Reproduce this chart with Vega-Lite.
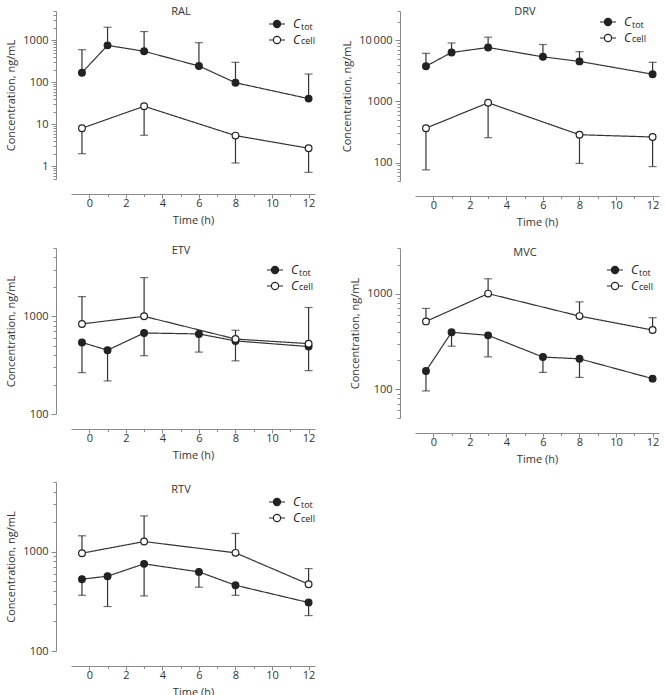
{
  "$schema": "https://vega.github.io/schema/vega-lite/v6.json",
  "padding": {"left": 5, "top": 5, "right": 5, "bottom": 0},
  "config": {
    "font": "Open Sans",
    "view": {"stroke": null},
    "axis": {"grid": false, "domainColor": "#8a8a8a", "tickColor": "#8a8a8a", "labelColor": "#333", "titleColor": "#333", "labelFont": "Open Sans", "titleFont": "Open Sans", "labelFontSize": 11, "titleFontSize": 11, "titleFontWeight": "normal", "domainWidth": 1, "tickWidth": 1},
    "title": {"font": "Open Sans", "fontSize": 11, "fontWeight": "normal", "color": "#333", "frame": "group", "anchor": "middle", "baseline": "alphabetic"},
    "legend": {"labelFont": "Open Sans", "labelColor": "#222", "padding": 0, "rowPadding": 0}
  },
  "datasets": {
    "pk": [
      {"d": "RAL", "s": "Ctot", "t": -0.4, "v": 170, "e": 600},
      {"d": "RAL", "s": "Ctot", "t": 1, "v": 760, "e": 2050},
      {"d": "RAL", "s": "Ctot", "t": 3, "v": 550, "e": 1620},
      {"d": "RAL", "s": "Ctot", "t": 6, "v": 245, "e": 880},
      {"d": "RAL", "s": "Ctot", "t": 8, "v": 98, "e": 300},
      {"d": "RAL", "s": "Ctot", "t": 12, "v": 41, "e": 158},
      {"d": "RAL", "s": "Ccell", "t": -0.4, "v": 8.1, "e": 2.0},
      {"d": "RAL", "s": "Ccell", "t": 3, "v": 27, "e": 5.5},
      {"d": "RAL", "s": "Ccell", "t": 8, "v": 5.4, "e": 1.2},
      {"d": "RAL", "s": "Ccell", "t": 12, "v": 2.7, "e": 0.72},
      {"d": "DRV", "s": "Ctot", "t": -0.4, "v": 3760, "e": 6100},
      {"d": "DRV", "s": "Ctot", "t": 1, "v": 6300, "e": 9000},
      {"d": "DRV", "s": "Ctot", "t": 3, "v": 7600, "e": 11200},
      {"d": "DRV", "s": "Ctot", "t": 6, "v": 5350, "e": 8500},
      {"d": "DRV", "s": "Ctot", "t": 8, "v": 4500, "e": 6500},
      {"d": "DRV", "s": "Ctot", "t": 12, "v": 2780, "e": 4350},
      {"d": "DRV", "s": "Ccell", "t": -0.4, "v": 365, "e": 76},
      {"d": "DRV", "s": "Ccell", "t": 3, "v": 950, "e": 255},
      {"d": "DRV", "s": "Ccell", "t": 8, "v": 285, "e": 97},
      {"d": "DRV", "s": "Ccell", "t": 12, "v": 262, "e": 86},
      {"d": "ETV", "s": "Ctot", "t": -0.4, "v": 540, "e": 265},
      {"d": "ETV", "s": "Ctot", "t": 1, "v": 450, "e": 218},
      {"d": "ETV", "s": "Ctot", "t": 3, "v": 675, "e": 395},
      {"d": "ETV", "s": "Ctot", "t": 6, "v": 660, "e": 430},
      {"d": "ETV", "s": "Ctot", "t": 8, "v": 560, "e": 350},
      {"d": "ETV", "s": "Ctot", "t": 12, "v": 490, "e": 278},
      {"d": "ETV", "s": "Ccell", "t": -0.4, "v": 835, "e": 1590},
      {"d": "ETV", "s": "Ccell", "t": 3, "v": 1000, "e": 2490},
      {"d": "ETV", "s": "Ccell", "t": 8, "v": 585, "e": 720},
      {"d": "ETV", "s": "Ccell", "t": 12, "v": 525, "e": 1230},
      {"d": "MVC", "s": "Ctot", "t": -0.4, "v": 155, "e": 96},
      {"d": "MVC", "s": "Ctot", "t": 1, "v": 394, "e": 282},
      {"d": "MVC", "s": "Ctot", "t": 3, "v": 366, "e": 218},
      {"d": "MVC", "s": "Ctot", "t": 6, "v": 217, "e": 150},
      {"d": "MVC", "s": "Ctot", "t": 8, "v": 208, "e": 133},
      {"d": "MVC", "s": "Ctot", "t": 12, "v": 129, "e": null},
      {"d": "MVC", "s": "Ccell", "t": -0.4, "v": 512, "e": 700},
      {"d": "MVC", "s": "Ccell", "t": 3, "v": 1000, "e": 1430},
      {"d": "MVC", "s": "Ccell", "t": 8, "v": 582, "e": 820},
      {"d": "MVC", "s": "Ccell", "t": 12, "v": 416, "e": 560},
      {"d": "RTV", "s": "Ctot", "t": -0.4, "v": 527, "e": 363},
      {"d": "RTV", "s": "Ctot", "t": 1, "v": 565, "e": 280},
      {"d": "RTV", "s": "Ctot", "t": 3, "v": 752, "e": 358},
      {"d": "RTV", "s": "Ctot", "t": 6, "v": 624, "e": 438},
      {"d": "RTV", "s": "Ctot", "t": 8, "v": 458, "e": 363},
      {"d": "RTV", "s": "Ctot", "t": 12, "v": 307, "e": 227},
      {"d": "RTV", "s": "Ccell", "t": -0.4, "v": 962, "e": 1440},
      {"d": "RTV", "s": "Ccell", "t": 3, "v": 1260, "e": 2280},
      {"d": "RTV", "s": "Ccell", "t": 8, "v": 970, "e": 1520},
      {"d": "RTV", "s": "Ccell", "t": 12, "v": 469, "e": 674}
    ]
  },
  "data": {"name": "pk"},
  "columns": 2,
  "spacing": {"row": 17, "column": 26},
  "resolve": {"scale": {"fill": "independent", "strokeDash": "independent"}, "legend": {"fill": "independent", "strokeDash": "independent"}},
  "concat": [
    {
      "width": 244, "height": 168,
      "title": {"text": "RAL", "offset": -6, "dx": -12},
      "transform": [{"filter": "datum.d == 'RAL'"}],
      "encoding": {
        "x": {"field": "t", "type": "quantitative", "title": "Time (h)", "scale": {"domain": [-1, 12.35], "nice": false, "zero": false}, "axis": {"offset": 15, "values": [0,1,2,3,4,5,6,7,8,9,10,11,12], "labelExpr": "datum.value % 2 == 0 ? datum.label : ''", "tickSize": {"condition": {"test": "datum.value % 2 == 0", "value": 4}, "value": 2.5}, "labelPadding": -1, "titlePadding": 6}},
        "y": {"field": "v", "type": "quantitative", "title": "Concentration, ng/mL", "scale": {"type": "log", "domain": [0.5, 5000], "nice": false}, "axis": {"offset": 15, "values": [0.5,0.6,0.7,0.8,0.9,1,2,3,4,5,6,7,8,9,10,20,30,40,50,60,70,80,90,100,200,300,400,500,600,700,800,900,1000,2000,3000,4000,5000], "labelExpr": "indexof([1,10,100,1000], datum.value) >= 0 ? format(datum.value, 'd') : (datum.value == 10000 ? '10\u2009000' : '')", "tickSize": {"condition": {"test": "indexof([1,10,100,1000,10000], datum.value) >= 0", "value": 5}, "value": 3}, "labelPadding": 3, "titlePadding": 6}}
      },
      "layer": [
        {"mark": {"type": "line", "color": "#333", "strokeWidth": 1.2},
         "encoding": {"strokeDash": {"field": "s", "type": "nominal", "sort": "descending", "scale": {"range": [[1, 0], [1, 0]]}, "legend": {"orient": "none", "legendX": 197, "legendY": 7, "title": null, "symbolType": "M-1,0H-0.45M0.45,0H1M0.45,0A0.45,0.45,0,1,1,-0.45,0A0.45,0.45,0,1,1,0.45,0Z", "symbolSize": 256, "symbolOpacity": 0, "labelExpr": "datum.label == 'Ctot' ? 'tot' : 'cell'", "labelFontSize": 9, "labelFontStyle": "normal", "labelOffset": 15}}}},
        {"mark": {"type": "rule", "color": "#333", "strokeWidth": 1.2}, "transform": [{"filter": "datum.e != null"}],
         "encoding": {"y2": {"field": "e"}}},
        {"mark": {"type": "tick", "orient": "horizontal", "color": "#333", "size": 8, "thickness": 1.2}, "transform": [{"filter": "datum.e != null"}],
         "encoding": {"y": {"field": "e", "type": "quantitative", "title": "Concentration, ng/mL"}}},
        {"mark": {"type": "point", "shape": "circle", "filled": true, "stroke": "#222", "strokeWidth": 1.2, "size": 45, "opacity": 1},
         "encoding": {"fill": {"field": "s", "type": "nominal", "scale": {"domain": ["Ctot", "Ccell"], "range": ["#222", "white"]}, "legend": {"orient": "none", "legendX": 197, "legendY": 4, "title": null, "symbolType": "M-1,0H-0.45M0.45,0H1M0.45,0A0.45,0.45,0,1,1,-0.45,0A0.45,0.45,0,1,1,0.45,0Z", "symbolSize": 256, "symbolStrokeColor": "#222", "symbolStrokeWidth": 1.2, "labelExpr": "'C'", "labelFontStyle": "italic", "labelFontSize": 12.5, "labelOffset": 7}}}}
      ]
    },
    {
      "width": 244, "height": 170,
      "title": {"text": "DRV", "offset": -6, "dx": -12},
      "transform": [{"filter": "datum.d == 'DRV'"}],
      "encoding": {
        "x": {"field": "t", "type": "quantitative", "title": "Time (h)", "scale": {"domain": [-1, 12.35], "nice": false, "zero": false}, "axis": {"offset": 15, "values": [0,1,2,3,4,5,6,7,8,9,10,11,12], "labelExpr": "datum.value % 2 == 0 ? datum.label : ''", "tickSize": {"condition": {"test": "datum.value % 2 == 0", "value": 4}, "value": 2.5}, "labelPadding": -1, "titlePadding": 6}},
        "y": {"field": "v", "type": "quantitative", "title": "Concentration, ng/mL", "scale": {"type": "log", "domain": [50, 30000], "nice": false}, "axis": {"offset": 15, "values": [50,60,70,80,90,100,200,300,400,500,600,700,800,900,1000,2000,3000,4000,5000,6000,7000,8000,9000,10000,20000,30000], "labelExpr": "indexof([1,10,100,1000], datum.value) >= 0 ? format(datum.value, 'd') : (datum.value == 10000 ? '10\u2009000' : '')", "tickSize": {"condition": {"test": "indexof([1,10,100,1000,10000], datum.value) >= 0", "value": 5}, "value": 3}, "labelPadding": 3, "titlePadding": 6}}
      },
      "layer": [
        {"mark": {"type": "line", "color": "#333", "strokeWidth": 1.2},
         "encoding": {"strokeDash": {"field": "s", "type": "nominal", "sort": "descending", "scale": {"range": [[1, 0], [1, 0]]}, "legend": {"orient": "none", "legendX": 184, "legendY": 5, "title": null, "symbolType": "M-1,0H-0.45M0.45,0H1M0.45,0A0.45,0.45,0,1,1,-0.45,0A0.45,0.45,0,1,1,0.45,0Z", "symbolSize": 256, "symbolOpacity": 0, "labelExpr": "datum.label == 'Ctot' ? 'tot' : 'cell'", "labelFontSize": 9, "labelFontStyle": "normal", "labelOffset": 15}}}},
        {"mark": {"type": "rule", "color": "#333", "strokeWidth": 1.2}, "transform": [{"filter": "datum.e != null"}],
         "encoding": {"y2": {"field": "e"}}},
        {"mark": {"type": "tick", "orient": "horizontal", "color": "#333", "size": 8, "thickness": 1.2}, "transform": [{"filter": "datum.e != null"}],
         "encoding": {"y": {"field": "e", "type": "quantitative", "title": "Concentration, ng/mL"}}},
        {"mark": {"type": "point", "shape": "circle", "filled": true, "stroke": "#222", "strokeWidth": 1.2, "size": 45, "opacity": 1},
         "encoding": {"fill": {"field": "s", "type": "nominal", "scale": {"domain": ["Ctot", "Ccell"], "range": ["#222", "white"]}, "legend": {"orient": "none", "legendX": 184, "legendY": 2, "title": null, "symbolType": "M-1,0H-0.45M0.45,0H1M0.45,0A0.45,0.45,0,1,1,-0.45,0A0.45,0.45,0,1,1,0.45,0Z", "symbolSize": 256, "symbolStrokeColor": "#222", "symbolStrokeWidth": 1.2, "labelExpr": "'C'", "labelFontStyle": "italic", "labelFontSize": 12.5, "labelOffset": 7}}}}
      ]
    },
    {
      "width": 244, "height": 166,
      "title": {"text": "ETV", "offset": -8, "dx": -12},
      "transform": [{"filter": "datum.d == 'ETV'"}],
      "encoding": {
        "x": {"field": "t", "type": "quantitative", "title": "Time (h)", "scale": {"domain": [-1, 12.35], "nice": false, "zero": false}, "axis": {"offset": 15, "values": [0,1,2,3,4,5,6,7,8,9,10,11,12], "labelExpr": "datum.value % 2 == 0 ? datum.label : ''", "tickSize": {"condition": {"test": "datum.value % 2 == 0", "value": 4}, "value": 2.5}, "labelPadding": -1, "titlePadding": 6}},
        "y": {"field": "v", "type": "quantitative", "title": "Concentration, ng/mL", "scale": {"type": "log", "domain": [100, 5000], "nice": false}, "axis": {"offset": 15, "values": [100,200,300,400,500,600,700,800,900,1000,2000,3000,4000,5000], "labelExpr": "indexof([1,10,100,1000], datum.value) >= 0 ? format(datum.value, 'd') : (datum.value == 10000 ? '10\u2009000' : '')", "tickSize": {"condition": {"test": "indexof([1,10,100,1000,10000], datum.value) >= 0", "value": 5}, "value": 3}, "labelPadding": 3, "titlePadding": 6}}
      },
      "layer": [
        {"mark": {"type": "line", "color": "#333", "strokeWidth": 1.2},
         "encoding": {"strokeDash": {"field": "s", "type": "nominal", "sort": "descending", "scale": {"range": [[1, 0], [1, 0]]}, "legend": {"orient": "none", "legendX": 195, "legendY": 16, "title": null, "symbolType": "M-1,0H-0.45M0.45,0H1M0.45,0A0.45,0.45,0,1,1,-0.45,0A0.45,0.45,0,1,1,0.45,0Z", "symbolSize": 256, "symbolOpacity": 0, "labelExpr": "datum.label == 'Ctot' ? 'tot' : 'cell'", "labelFontSize": 9, "labelFontStyle": "normal", "labelOffset": 15}}}},
        {"mark": {"type": "rule", "color": "#333", "strokeWidth": 1.2}, "transform": [{"filter": "datum.e != null"}],
         "encoding": {"y2": {"field": "e"}}},
        {"mark": {"type": "tick", "orient": "horizontal", "color": "#333", "size": 8, "thickness": 1.2}, "transform": [{"filter": "datum.e != null"}],
         "encoding": {"y": {"field": "e", "type": "quantitative", "title": "Concentration, ng/mL"}}},
        {"mark": {"type": "point", "shape": "circle", "filled": true, "stroke": "#222", "strokeWidth": 1.2, "size": 45, "opacity": 1},
         "encoding": {"fill": {"field": "s", "type": "nominal", "scale": {"domain": ["Ctot", "Ccell"], "range": ["#222", "white"]}, "legend": {"orient": "none", "legendX": 195, "legendY": 13, "title": null, "symbolType": "M-1,0H-0.45M0.45,0H1M0.45,0A0.45,0.45,0,1,1,-0.45,0A0.45,0.45,0,1,1,0.45,0Z", "symbolSize": 256, "symbolStrokeColor": "#222", "symbolStrokeWidth": 1.2, "labelExpr": "'C'", "labelFontStyle": "italic", "labelFontSize": 12.5, "labelOffset": 7}}}}
      ]
    },
    {
      "width": 244, "height": 170,
      "title": {"text": "MVC", "offset": -10, "dx": -12},
      "transform": [{"filter": "datum.d == 'MVC'"}],
      "encoding": {
        "x": {"field": "t", "type": "quantitative", "title": "Time (h)", "scale": {"domain": [-1, 12.35], "nice": false, "zero": false}, "axis": {"offset": 15, "values": [0,1,2,3,4,5,6,7,8,9,10,11,12], "labelExpr": "datum.value % 2 == 0 ? datum.label : ''", "tickSize": {"condition": {"test": "datum.value % 2 == 0", "value": 4}, "value": 2.5}, "labelPadding": -1, "titlePadding": 6}},
        "y": {"field": "v", "type": "quantitative", "title": "Concentration, ng/mL", "scale": {"type": "log", "domain": [50, 3000], "nice": false}, "axis": {"offset": 15, "values": [50,60,70,80,90,100,200,300,400,500,600,700,800,900,1000,2000,3000], "labelExpr": "indexof([1,10,100,1000], datum.value) >= 0 ? format(datum.value, 'd') : (datum.value == 10000 ? '10\u2009000' : '')", "tickSize": {"condition": {"test": "indexof([1,10,100,1000,10000], datum.value) >= 0", "value": 5}, "value": 3}, "labelPadding": 3, "titlePadding": 6}}
      },
      "layer": [
        {"mark": {"type": "line", "color": "#333", "strokeWidth": 1.2},
         "encoding": {"strokeDash": {"field": "s", "type": "nominal", "sort": "descending", "scale": {"range": [[1, 0], [1, 0]]}, "legend": {"orient": "none", "legendX": 191, "legendY": 16, "title": null, "symbolType": "M-1,0H-0.45M0.45,0H1M0.45,0A0.45,0.45,0,1,1,-0.45,0A0.45,0.45,0,1,1,0.45,0Z", "symbolSize": 256, "symbolOpacity": 0, "labelExpr": "datum.label == 'Ctot' ? 'tot' : 'cell'", "labelFontSize": 9, "labelFontStyle": "normal", "labelOffset": 15}}}},
        {"mark": {"type": "rule", "color": "#333", "strokeWidth": 1.2}, "transform": [{"filter": "datum.e != null"}],
         "encoding": {"y2": {"field": "e"}}},
        {"mark": {"type": "tick", "orient": "horizontal", "color": "#333", "size": 8, "thickness": 1.2}, "transform": [{"filter": "datum.e != null"}],
         "encoding": {"y": {"field": "e", "type": "quantitative", "title": "Concentration, ng/mL"}}},
        {"mark": {"type": "point", "shape": "circle", "filled": true, "stroke": "#222", "strokeWidth": 1.2, "size": 45, "opacity": 1},
         "encoding": {"fill": {"field": "s", "type": "nominal", "scale": {"domain": ["Ctot", "Ccell"], "range": ["#222", "white"]}, "legend": {"orient": "none", "legendX": 191, "legendY": 13, "title": null, "symbolType": "M-1,0H-0.45M0.45,0H1M0.45,0A0.45,0.45,0,1,1,-0.45,0A0.45,0.45,0,1,1,0.45,0Z", "symbolSize": 256, "symbolStrokeColor": "#222", "symbolStrokeWidth": 1.2, "labelExpr": "'C'", "labelFontStyle": "italic", "labelFontSize": 12.5, "labelOffset": 7}}}}
      ]
    },
    {
      "width": 244, "height": 169,
      "title": {"text": "RTV", "offset": -13, "dx": -12},
      "transform": [{"filter": "datum.d == 'RTV'"}],
      "encoding": {
        "x": {"field": "t", "type": "quantitative", "title": "Time (h)", "scale": {"domain": [-1, 12.35], "nice": false, "zero": false}, "axis": {"offset": 15, "values": [0,1,2,3,4,5,6,7,8,9,10,11,12], "labelExpr": "datum.value % 2 == 0 ? datum.label : ''", "tickSize": {"condition": {"test": "datum.value % 2 == 0", "value": 4}, "value": 2.5}, "labelPadding": -1, "titlePadding": 6}},
        "y": {"field": "v", "type": "quantitative", "title": "Concentration, ng/mL", "scale": {"type": "log", "domain": [100, 5000], "nice": false}, "axis": {"offset": 15, "values": [100,200,300,400,500,600,700,800,900,1000,2000,3000,4000,5000], "labelExpr": "indexof([1,10,100,1000], datum.value) >= 0 ? format(datum.value, 'd') : (datum.value == 10000 ? '10\u2009000' : '')", "tickSize": {"condition": {"test": "indexof([1,10,100,1000,10000], datum.value) >= 0", "value": 5}, "value": 3}, "labelPadding": 3, "titlePadding": 6}}
      },
      "layer": [
        {"mark": {"type": "line", "color": "#333", "strokeWidth": 1.2},
         "encoding": {"strokeDash": {"field": "s", "type": "nominal", "sort": "descending", "scale": {"range": [[1, 0], [1, 0]]}, "legend": {"orient": "none", "legendX": 197, "legendY": 14, "title": null, "symbolType": "M-1,0H-0.45M0.45,0H1M0.45,0A0.45,0.45,0,1,1,-0.45,0A0.45,0.45,0,1,1,0.45,0Z", "symbolSize": 256, "symbolOpacity": 0, "labelExpr": "datum.label == 'Ctot' ? 'tot' : 'cell'", "labelFontSize": 9, "labelFontStyle": "normal", "labelOffset": 15}}}},
        {"mark": {"type": "rule", "color": "#333", "strokeWidth": 1.2}, "transform": [{"filter": "datum.e != null"}],
         "encoding": {"y2": {"field": "e"}}},
        {"mark": {"type": "tick", "orient": "horizontal", "color": "#333", "size": 8, "thickness": 1.2}, "transform": [{"filter": "datum.e != null"}],
         "encoding": {"y": {"field": "e", "type": "quantitative", "title": "Concentration, ng/mL"}}},
        {"mark": {"type": "point", "shape": "circle", "filled": true, "stroke": "#222", "strokeWidth": 1.2, "size": 45, "opacity": 1},
         "encoding": {"fill": {"field": "s", "type": "nominal", "scale": {"domain": ["Ctot", "Ccell"], "range": ["#222", "white"]}, "legend": {"orient": "none", "legendX": 197, "legendY": 11, "title": null, "symbolType": "M-1,0H-0.45M0.45,0H1M0.45,0A0.45,0.45,0,1,1,-0.45,0A0.45,0.45,0,1,1,0.45,0Z", "symbolSize": 256, "symbolStrokeColor": "#222", "symbolStrokeWidth": 1.2, "labelExpr": "'C'", "labelFontStyle": "italic", "labelFontSize": 12.5, "labelOffset": 7}}}}
      ]
    }
  ]
}
